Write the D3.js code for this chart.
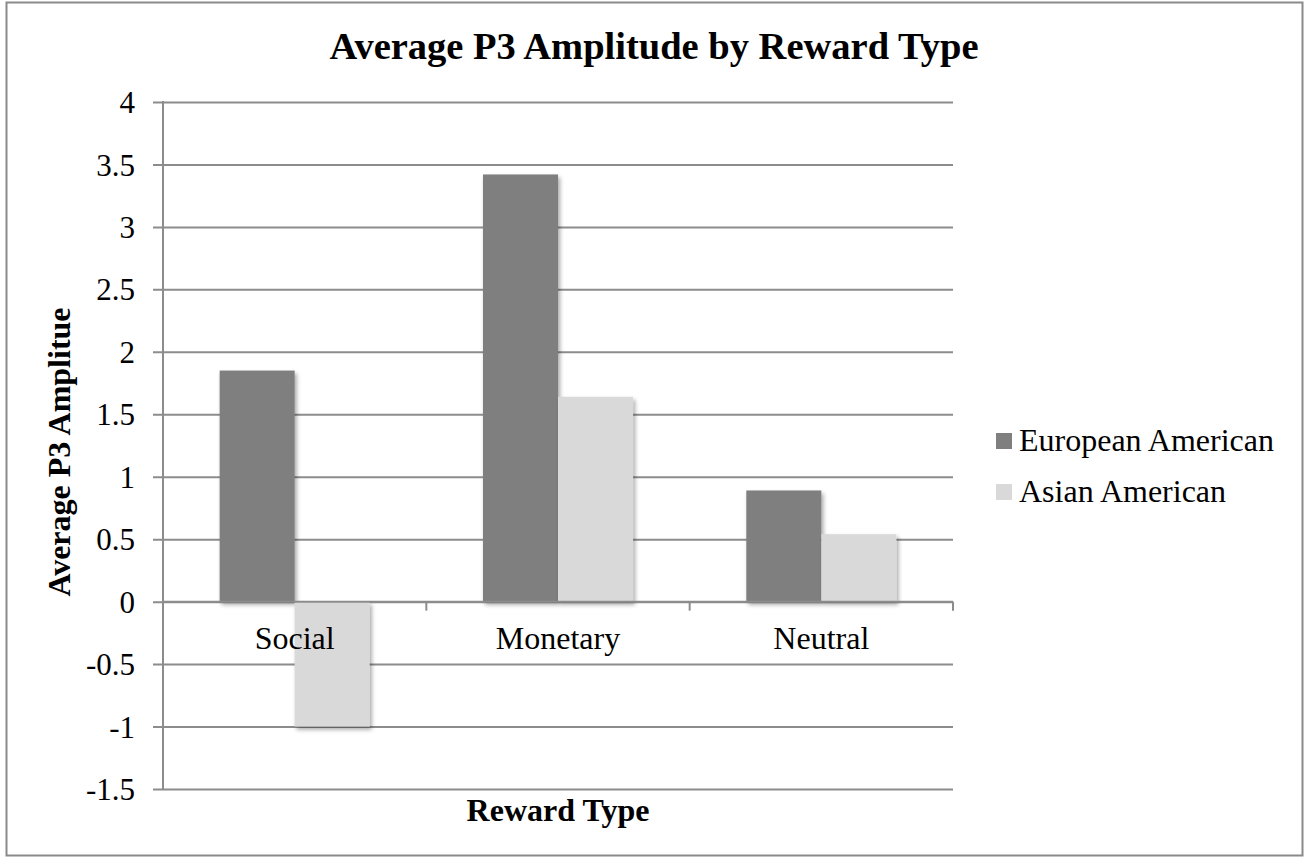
<!DOCTYPE html>
<html>
<head>
<meta charset="utf-8">
<script src="https://cdn.jsdelivr.net/npm/d3@7/dist/d3.min.js"></script>
<style>
  html, body { margin: 0; padding: 0; background: #fff; }
  svg { display: block; }
  text { font-family: "Liberation Serif", "Times New Roman", Times, serif; fill: #000; }
</style>
</head>
<body>
<svg id="chart" width="1305" height="859"></svg>
<script>
// Reward categories on the x axis
const categories = ["Social", "Monetary", "Neutral"];
// Group names shown in the legend
const seriesNames = ["European American", "Asian American"];
// Mean P3 amplitude per reward type
const europeanAmerican = [1.85, 3.42, 0.89];
const asianAmerican = [-1.0, 1.64, 0.54];
// Y axis tick values
const yTicks = [-1.5, -1, -0.5, 0, 0.5, 1, 1.5, 2, 2.5, 3, 3.5, 4];

const seriesValues = [europeanAmerican, asianAmerican];
const seriesColors = ["#7f7f7f", "#d9d9d9"];

const svg = d3.select("#chart");

// Outer frame
svg.append("rect")
  .attr("x", 6.5).attr("y", 2.5)
  .attr("width", 1296).attr("height", 853)
  .attr("fill", "#fff")
  .attr("stroke", "#8a8a8a").attr("stroke-width", 2);

// Soft shadow under each bar
const defs = svg.append("defs");
const f = defs.append("filter").attr("id", "barShadow")
  .attr("x", "-20%").attr("y", "-20%").attr("width", "140%").attr("height", "140%");
f.append("feDropShadow")
  .attr("dx", 2).attr("dy", 3).attr("stdDeviation", 2.2)
  .attr("flood-color", "#000").attr("flood-opacity", 0.35);

const plot = { left: 163, right: 953, top: 102, bottom: 789 };

const y = d3.scaleLinear().domain([-1.5, 4]).range([plot.bottom, plot.top]);
const x = d3.scaleBand().domain(categories).range([plot.left, plot.right]).padding(0);
const xs = d3.scaleBand().domain(seriesNames).range([0, x.bandwidth()])
  .paddingInner(0).paddingOuter(0.755);

const gridColor = "#8c8c8c";

// Horizontal gridlines with left tick stubs
const yAxis = d3.axisLeft(y)
  .tickValues(yTicks)
  .tickSize(-(plot.right - plot.left))
  .tickPadding(0)
  .tickFormat(d => String(d));

const gy = svg.append("g")
  .attr("transform", `translate(${plot.left},0)`)
  .call(yAxis);
gy.select(".domain").remove();
gy.selectAll(".tick line")
  .attr("x1", -10)
  .attr("stroke", gridColor).attr("stroke-width", 2);
gy.selectAll(".tick text")
  .attr("x", -28)
  .attr("dy", "0.34em")
  .style("font-size", "31px")
  .style("font-family", "'Liberation Serif', 'Times New Roman', serif")
  .attr("fill", "#000");

// Bars
const groups = svg.append("g").selectAll("g")
  .data(categories)
  .join("g")
  .attr("transform", d => `translate(${x(d)},0)`);

groups.selectAll("rect")
  .data((d, i) => seriesNames.map((s, j) => ({ s, v: seriesValues[j][i], j })))
  .join("rect")
  .attr("x", d => xs(d.s))
  .attr("width", xs.bandwidth())
  .attr("y", d => y(Math.max(0, d.v)))
  .attr("height", d => Math.abs(y(d.v) - y(0)))
  .attr("fill", d => seriesColors[d.j])
  .attr("filter", "url(#barShadow)");

// Vertical axis line
svg.append("line")
  .attr("x1", plot.left).attr("x2", plot.left)
  .attr("y1", plot.top - 1).attr("y2", plot.bottom + 1)
  .attr("stroke", gridColor).attr("stroke-width", 2);

// Category axis along zero
const xAxis = d3.axisBottom(x).tickSize(0).tickPadding(0);
const gx = svg.append("g")
  .attr("transform", `translate(0,${y(0)})`)
  .call(xAxis);
gx.select(".domain")
  .attr("stroke", gridColor).attr("stroke-width", 2)
  .attr("d", `M${plot.left},0H${plot.right}`);
gx.selectAll(".tick text")
  .attr("y", 47)
  .attr("dy", 0)
  .style("font-size", "32px")
  .style("font-family", "'Liberation Serif', 'Times New Roman', serif")
  .attr("fill", "#000");

// Category boundary ticks
const boundaries = categories.map(c => x(c) + x.bandwidth());
gx.selectAll(".bound")
  .data(boundaries)
  .join("line")
  .attr("class", "bound")
  .attr("x1", d => d).attr("x2", d => d)
  .attr("y1", 0).attr("y2", 9)
  .attr("stroke", gridColor).attr("stroke-width", 2);

// Title
svg.append("text")
  .attr("x", 654).attr("y", 59)
  .attr("text-anchor", "middle")
  .style("font-size", "38.5px").style("font-weight", "bold")
  .text("Average P3 Amplitude by Reward Type");

// Axis titles
svg.append("text")
  .attr("transform", `translate(70,452) rotate(-90)`)
  .attr("text-anchor", "middle")
  .style("font-size", "32px").style("font-weight", "bold")
  .text("Average P3 Amplitue");

svg.append("text")
  .attr("x", (plot.left + plot.right) / 2).attr("y", 821)
  .attr("text-anchor", "middle")
  .style("font-size", "32px").style("font-weight", "bold")
  .text("Reward Type");

// Legend
const legend = svg.append("g").attr("transform", "translate(996,433)");
const li = legend.selectAll("g")
  .data(seriesNames)
  .join("g")
  .attr("transform", (d, i) => `translate(0,${i * 51})`);
li.append("rect")
  .attr("width", 16).attr("height", 16)
  .attr("fill", (d, i) => seriesColors[i]);
li.append("text")
  .attr("x", 23).attr("y", 18)
  .style("font-size", "32px")
  .text(d => d);
</script>
</body>
</html>
